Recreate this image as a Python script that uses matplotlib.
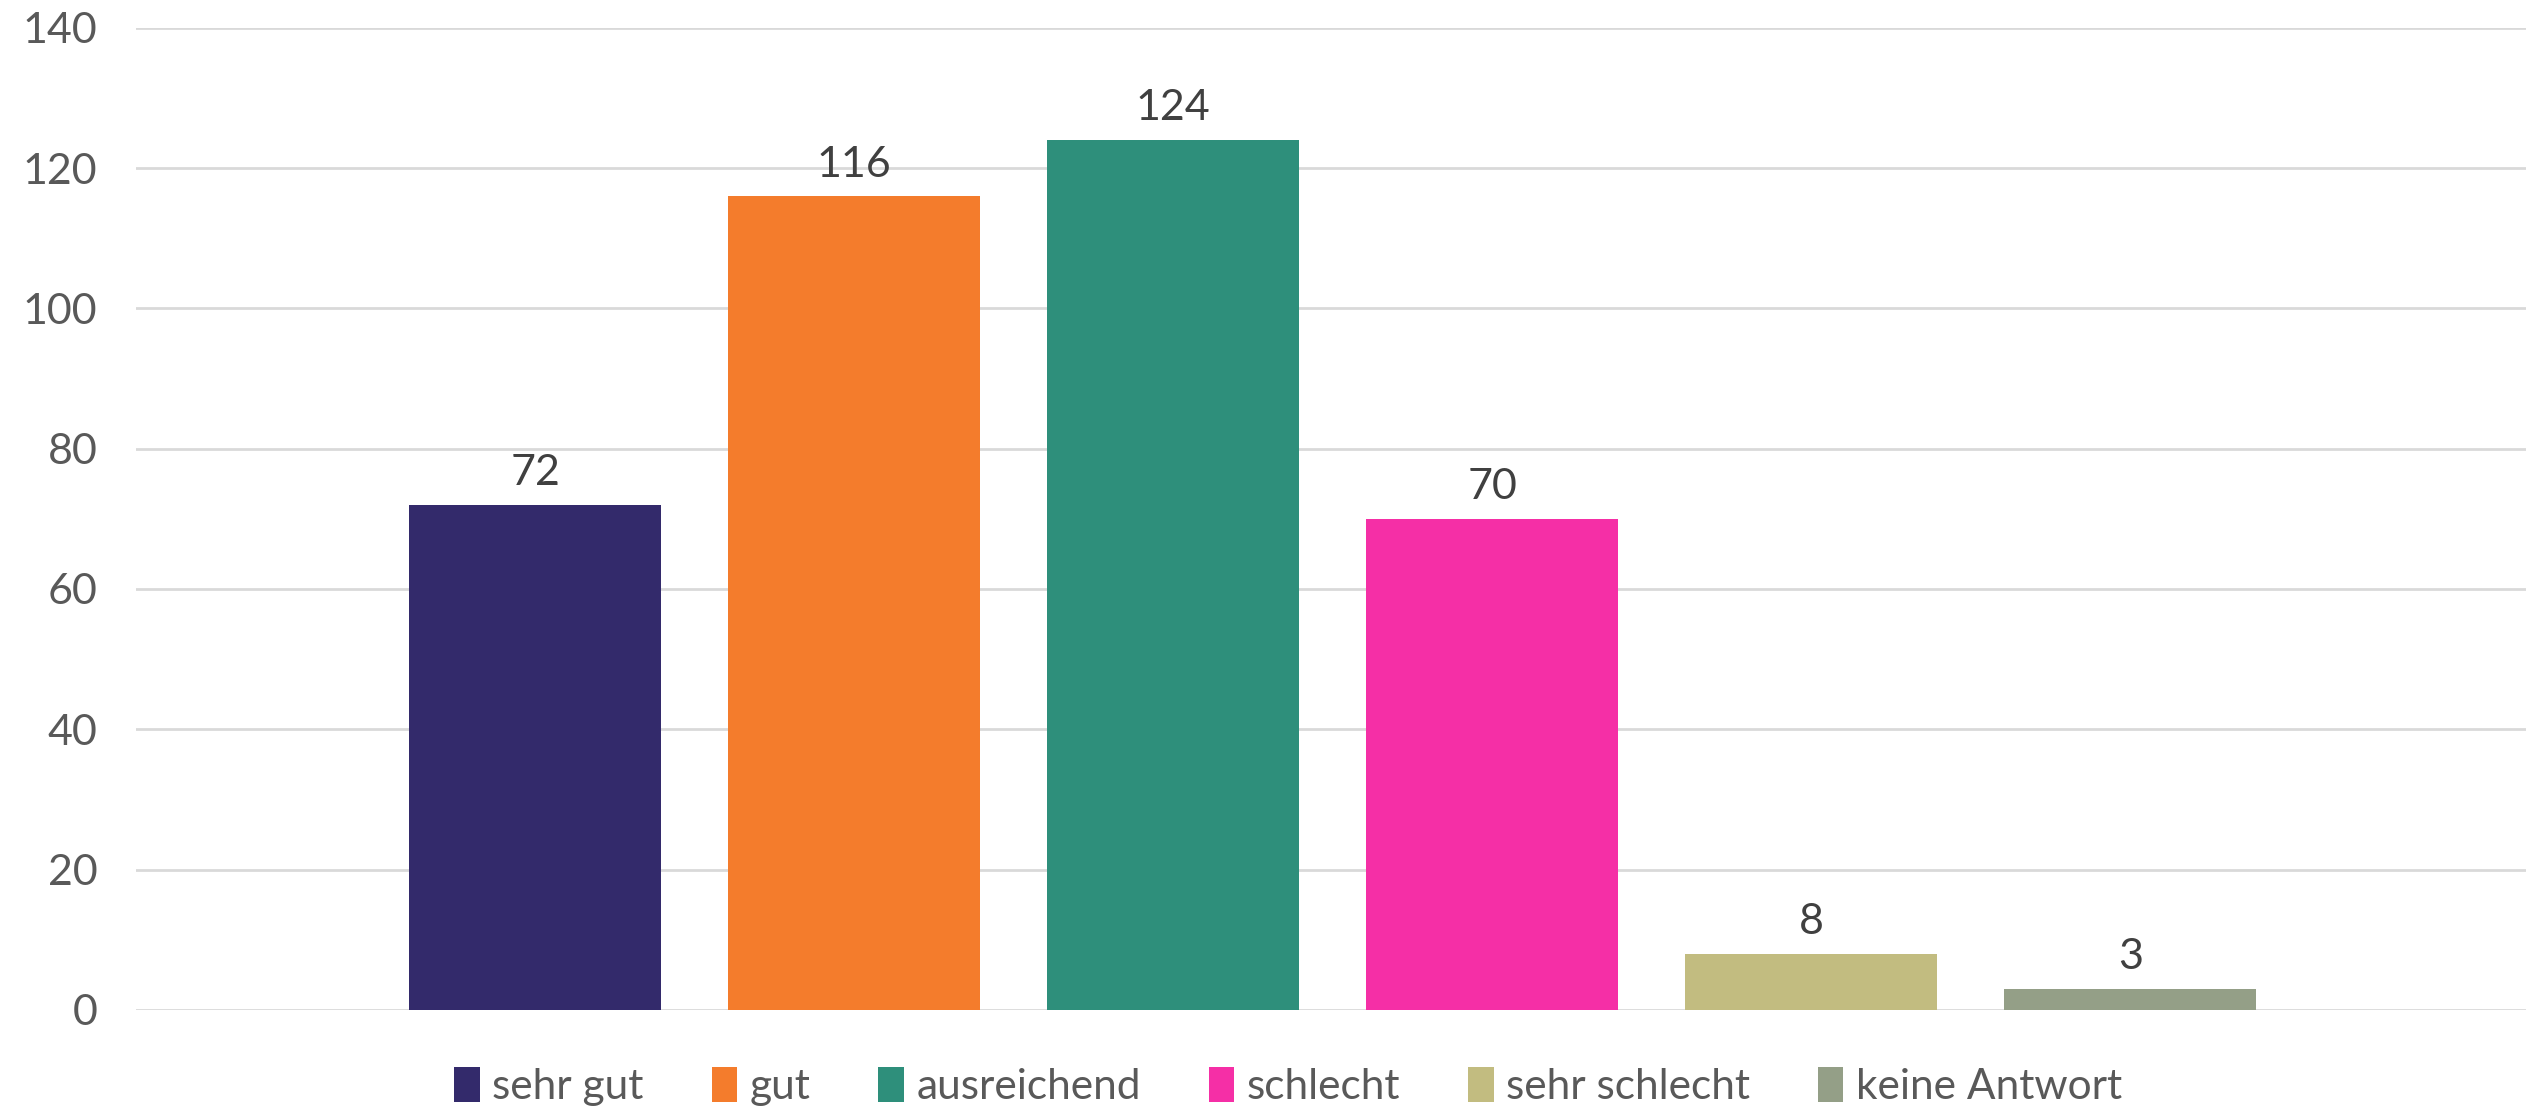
import numpy as np
import matplotlib
matplotlib.use('Agg')
import matplotlib.pyplot as plt

plt.rcParams['font.family'] = ['Lato', 'DejaVu Sans']

# Data
categories = ['sehr gut', 'gut', 'ausreichend', 'schlecht', 'sehr schlecht', 'keine Antwort']
values = [72, 116, 124, 70, 8, 3]
colors = ['#332A6B', '#F47C2C', '#2E8F7B', '#F52FA6', '#C2BC80', '#949F87']
yticks = [0, 20, 40, 60, 80, 100, 120, 140]

fig = plt.figure(figsize=(25.26, 11.11), dpi=100)
ax = fig.add_axes([0.054, 0.091, 0.946, 0.884])

x = np.arange(len(values))
bars = ax.bar(x, values, width=0.79, color=colors, label=categories, zorder=3)
for xi, v in zip(x, values):
    ax.text(xi, v + 1.8, str(v), ha='center', va='bottom', fontsize=31, color='#404040')

ax.set_xlim(-1.25, 6.24)
ax.set_ylim(0, 140)
ax.set_yticks(yticks)
ax.set_xticks([])
ax.tick_params(axis='y', length=0, pad=28, labelsize=31, labelcolor='#595959')
ax.grid(axis='y', color='#D9D9D9', linewidth=2, zorder=0)
for s in ax.spines.values():
    s.set_visible(False)

fig.legend(bars, categories, loc='center', bbox_to_anchor=(0.51, 0.022), ncol=6,
           frameon=False, fontsize=30.5, labelcolor='#595959',
           handlelength=0.6, handleheight=0.9, handletextpad=0.3, columnspacing=1.6)

fig.savefig('out.png', dpi=100)
